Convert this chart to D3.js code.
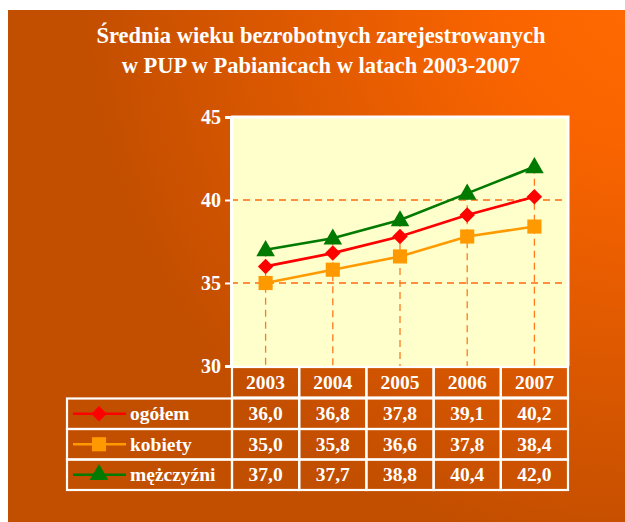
<!DOCTYPE html>
<html>
<head>
<meta charset="utf-8">
<script src="https://cdn.jsdelivr.net/npm/d3@7"></script>
<style>
  html, body { margin: 0; padding: 0; background: #fff; }
  svg { display: block; }
  text { font-family: "Liberation Serif", "Times New Roman", serif; font-weight: bold; fill: #fff; }
</style>
</head>
<body>
<svg id="chart" width="625" height="522"></svg>
<script>
// Average age of registered unemployed, PUP Pabianice
const years = ["2003", "2004", "2005", "2006", "2007"];
const ogolem = [36.0, 36.8, 37.8, 39.1, 40.2];
const kobiety = [35.0, 35.8, 36.6, 37.8, 38.4];
const mezczyzni = [37.0, 37.7, 38.8, 40.4, 42.0];
const yTicks = [30, 35, 40, 45];

const series = [
  { name: "ogółem", values: ogolem, color: "#FF0000", symbol: d3.symbolSquare, size: 120, rot: 45 },
  { name: "kobiety", values: kobiety, color: "#FF9900", symbol: d3.symbolSquare, size: 200, rot: 0 },
  { name: "mężczyźni", values: mezczyzni, color: "#007A00", symbol: d3.symbolTriangle, size: 150, rot: 0 }
];

const svg = d3.select("#chart");
const defs = svg.append("defs");
const grad = defs.append("radialGradient")
  .attr("id", "bg").attr("gradientUnits", "userSpaceOnUse")
  .attr("cx", 640).attr("cy", 0).attr("r", 560);
grad.append("stop").attr("offset", "0%").attr("stop-color", "#FF6A00");
grad.append("stop").attr("offset", "25%").attr("stop-color", "#FA6400");
grad.append("stop").attr("offset", "100%").attr("stop-color", "#C24E00");

svg.append("rect").attr("x", 8).attr("y", 10).attr("width", 617).attr("height", 512).attr("fill", "url(#bg)");

// Title
const title = ["Średnia wieku bezrobotnych zarejestrowanych", "w PUP w Pabianicach w latach 2003-2007"];
svg.append("g").selectAll("text").data(title).join("text")
  .attr("x", 321).attr("y", (d, i) => 43 + i * 30)
  .attr("text-anchor", "middle").attr("font-size", 22.5).text(d => d);

// Scales
const plot = { left: 231, right: 568, top: 117, bottom: 366 };
const x = d3.scaleBand().domain(years).range([232, 568]);
const y = d3.scaleLinear().domain([30, 45]).range([plot.bottom, plot.top]);

// Plot area
svg.append("rect").attr("x", plot.left).attr("y", plot.top)
  .attr("width", plot.right - plot.left).attr("height", plot.bottom - plot.top)
  .attr("fill", "#FFFFCC");

// Dashed gridlines
svg.append("g").selectAll("line").data(yTicks.filter(t => t > 30 && t < 45)).join("line")
  .attr("x1", plot.left).attr("x2", plot.right)
  .attr("y1", d => y(d)).attr("y2", d => y(d))
  .attr("stroke", "#FF6A10").attr("stroke-width", 1.3).attr("stroke-dasharray", "7,5");

// Drop lines from highest value down to the axis
svg.append("g").selectAll("line").data(years).join("line")
  .attr("x1", d => x(d) + x.bandwidth() / 2).attr("x2", d => x(d) + x.bandwidth() / 2)
  .attr("y1", (d, i) => y(d3.max(series, s => s.values[i])))
  .attr("y2", plot.bottom)
  .attr("stroke", "#FF7A20").attr("stroke-width", 1.3).attr("stroke-dasharray", "7,5");

// Plot border (top, right)
svg.append("path")
  .attr("d", `M${plot.left},${plot.top}H${plot.right}V${plot.bottom}`)
  .attr("fill", "none").attr("stroke", "#fff").attr("stroke-width", 3);

// Y axis
const yAxis = d3.axisLeft(y).tickValues(yTicks).tickSize(6).tickPadding(4);
const ga = svg.append("g").attr("transform", `translate(${plot.left},0)`).call(yAxis);
ga.select(".domain").attr("stroke", "#fff").attr("stroke-width", 3);
ga.selectAll(".tick line").attr("stroke", "#fff").attr("stroke-width", 2);
ga.selectAll(".tick text").attr("fill", "#fff").attr("font-size", 20)
  .attr("font-family", "Liberation Serif, serif").attr("font-weight", "bold").attr("dy", "0.3em");

// Lines and markers
const cx = (i) => x(years[i]) + x.bandwidth() / 2;
const line = d3.line().x((d, i) => cx(i)).y(d => y(d));
series.forEach(s => {
  svg.append("path").datum(s.values).attr("d", line)
    .attr("fill", "none").attr("stroke", s.color).attr("stroke-width", 2.6);
});
series.forEach(s => {
  svg.append("g").selectAll("path").data(s.values).join("path")
    .attr("d", d3.symbol().type(s.symbol).size(s.size))
    .attr("transform", (d, i) => `translate(${cx(i)},${y(d) + (s.symbol === d3.symbolTriangle ? 1 : 0)}) rotate(${s.rot})`)
    .attr("fill", s.color);
});

// Data table
const table = svg.append("g");
const rowH = 30.5;
const headTop = 367;
const legendLeft = 67;
const fs = 19.5;

// header cells
years.forEach(yr => {
  table.append("rect").attr("x", x(yr)).attr("y", headTop).attr("width", x.bandwidth()).attr("height", rowH)
    .attr("stroke", "#fff").attr("stroke-width", 2.2).attr("fill", "none");
  table.append("text").attr("x", x(yr) + x.bandwidth() / 2).attr("y", headTop + rowH / 2 + 6.5)
    .attr("text-anchor", "middle").attr("font-size", fs).text(yr);
});

series.forEach((s, r) => {
  const top = headTop + rowH * (r + 1) + 1;
  table.append("rect").attr("x", legendLeft).attr("y", top).attr("width", 232 - legendLeft).attr("height", rowH)
    .attr("stroke", "#fff").attr("stroke-width", 2.2).attr("fill", "none");
  // legend key
  const my = top + rowH / 2;
  table.append("line").attr("x1", 73).attr("x2", 126).attr("y1", my).attr("y2", my)
    .attr("stroke", s.color).attr("stroke-width", 2.6);
  table.append("path").attr("d", d3.symbol().type(s.symbol).size(s.size))
    .attr("transform", `translate(99,${my}) rotate(${s.rot})`).attr("fill", s.color);
  table.append("text").attr("x", 130).attr("y", my + 6.5).attr("font-size", fs).text(s.name);
  years.forEach((yr, i) => {
    table.append("rect").attr("x", x(yr)).attr("y", top).attr("width", x.bandwidth()).attr("height", rowH)
      .attr("stroke", "#fff").attr("stroke-width", 2.2).attr("fill", "none");
    table.append("text").attr("x", x(yr) + x.bandwidth() / 2).attr("y", my + 6.5)
      .attr("text-anchor", "middle").attr("font-size", fs)
      .text(d3.format(".1f")(s.values[i]).replace(".", ","));
  });
});
</script>
</body>
</html>
